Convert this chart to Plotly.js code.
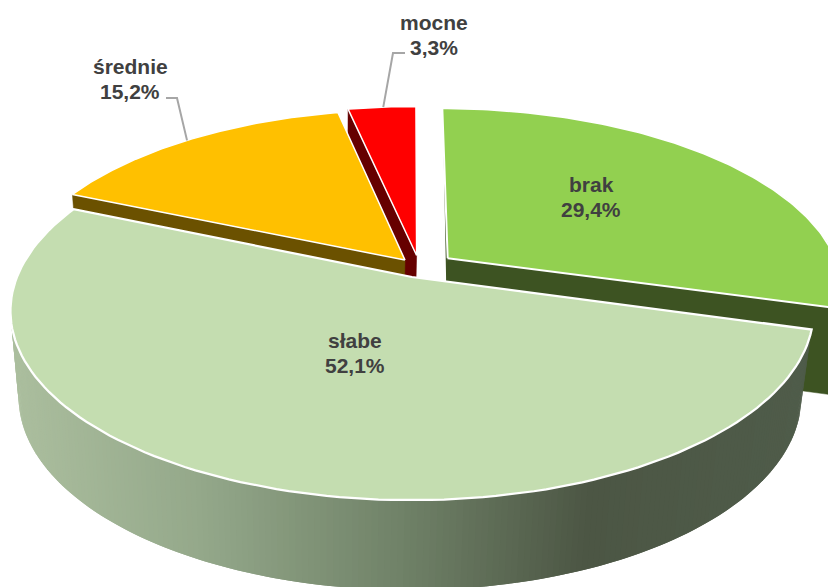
<!DOCTYPE html>
<html><head><meta charset="utf-8">
<script src="https://cdn.plot.ly/plotly-3.0.1.min.js"></script>
<style>html,body{margin:0;padding:0;background:#fff}#c{width:828px;height:587px}</style>
</head><body><div id="c"></div>
<script>
const categories = ['brak','słabe','średnie','mocne'];
const shares = [29.4,52.1,15.2,3.3];
const topColors = ['#92D050','#C4DDB0','#FFC000','#FF0000'];
const sideColors = ['#3D5322','#4F5A48','#6B5100','#660000'];
const pullU = [0.092,0,-0.018,0.012];
const pullV = [-0.105,0,-0.094,-0.12];
const labelX = [591,355,130,434];
const labelY = [197,352.5,79,34.5];

const cam = {cx:412,cy:277,a:395,b:183,p:0.18, cx2:410,cy2:362,a2:385,b2:187};
const top3 = (u,v)=>{const w=1-cam.p*v;return [cam.cx+cam.a*u/w,cam.cy+cam.b*v/w];};
const bot3 = (u,v)=>{const w=1-cam.p*v;return [cam.cx2+cam.a2*u/w,cam.cy2+cam.b2*v/w];};
const total = shares.reduce((s,v)=>s+v,0);
let acc=0;
const wedges = shares.map((v,i)=>{const s=acc/total*2*Math.PI;acc+=v;return {i,s,e:acc/total*2*Math.PI};});
const rim=(i,t)=>[pullU[i]+Math.sin(t),pullV[i]-Math.cos(t)];
const arc=(i,s,e,n)=>{const o=[];for(let k=0;k<=n;k++)o.push(rim(i,s+(e-s)*k/n));return o;};
const poly=(pts,fill,line,lw)=>({type:'scatter',mode:'lines',x:pts.map(p=>p[0]),y:pts.map(p=>p[1]),fill:'toself',fillcolor:fill,
  line:{color:line,width:lw},hoverinfo:'skip',showlegend:false});
const faceTop=(w,lw)=>{const c=[pullU[w.i],pullV[w.i]];const pts=[top3(...c),...arc(w.i,w.s,w.e,120).map(q=>top3(...q)),top3(...c)];
  return poly(pts,topColors[w.i],'#FFFFFF',lw);};
const cut=(i,t)=>{const c=[pullU[i],pullV[i]],r=rim(i,t);const pts=[top3(...c),top3(...r),bot3(...r),bot3(...c)];pts.push(pts[0]);
  return poly(pts,sideColors[i],sideColors[i],0.5);};
const stops=[[12,[171,190,158]],[200,[148,168,138]],[400,[112,130,104]],[590,[76,86,68]],[812,[79,92,74]]];
const shade=x=>{let j=0;while(j<stops.length-2&&x>stops[j+1][0])j++;const a=stops[j],b=stops[j+1];
  const f=Math.max(0,Math.min(1,(x-a[0])/(b[0]-a[0])));return 'rgb('+a[1].map((c,k)=>Math.round(c+(b[1][k]-c)*f)).join(',')+')';};

const traces=[];
const [wB,wS,wM,wL]=wedges;
traces.push(cut(3,wL.s),faceTop(wL,1.5));
traces.push(cut(2,wM.s),faceTop(wM,1.5));
// brak: outer wall, cut face, thin sliver along the left edge
{const a=arc(0,wB.s+(wB.e-wB.s)*0.6,wB.e,40);
 traces.push(poly([...a.map(q=>top3(...q)),...a.slice().reverse().map(q=>bot3(...q))],sideColors[0],sideColors[0],0.5));
 traces.push(cut(0,wB.e));
 const ap=top3(pullU[0],pullV[0]),e0=top3(...rim(0,wB.s));
 const m=[ap[0]+(e0[0]-ap[0])*0.81,ap[1]+(e0[1]-ap[1])*0.81];
 traces.push(poly([m,[ap[0]-1.5,ap[1]+24],[ap[0]+2,ap[1]+24],ap,m],sideColors[0],sideColors[0],0));
 traces.push(faceTop(wB,2));}
// słabe wall, as gradient strips (only the front part is ever visible)
{const n=240;const vis=arc(1,wS.s,wS.e,n);
 for(let k=0;k<n;k++){const q0=vis[k],q1=vis[Math.min(n,k+2)];
   const pts=[top3(...q0),top3(...q1),bot3(...q1),bot3(...q0)];pts.push(pts[0]);
   const xm=(pts[0][0]+top3(...vis[k+1])[0])/2;
   traces.push(poly(pts,shade(xm),shade(xm),0));}
 traces.push(faceTop(wS,2.25));}

const pct=v=>v.toFixed(1).replace('.',',')+'%';
const lab=(t,x,y)=>({x,y,xref:'x',yref:'y',showarrow:false,text:t,align:'center',
  font:{family:'Liberation Sans, Arial, sans-serif',size:21,color:'#404040',weight:700}});
const annotations=[];
categories.forEach((c,i)=>{annotations.push(lab(c,labelX[i],labelY[i]-12.5),lab(pct(shares[i]),labelX[i],labelY[i]+12.5));});
const elbow=(i,t,x1,y1,x2,y2)=>{const p=top3(...rim(i,t));return {type:'path',xref:'x',yref:'y',path:`M${x1} ${y1}L${x2} ${y2}L${p[0]} ${p[1]}`,line:{color:'#A6A6A6',width:2}};};
const shapes=[elbow(2,wM.s+(wM.e-wM.s)*0.49,166,98,177,98),elbow(3,wL.s+(wL.e-wL.s)*0.52,405,53,393,53)];
Plotly.newPlot('c',traces,{width:828,height:587,margin:{l:0,r:0,t:0,b:0},paper_bgcolor:'#fff',plot_bgcolor:'#fff',showlegend:false,
  xaxis:{range:[0,828],visible:false,fixedrange:true},yaxis:{range:[587,0],visible:false,fixedrange:true},annotations,shapes},{displayModeBar:false,staticPlot:true});
</script></body></html>
